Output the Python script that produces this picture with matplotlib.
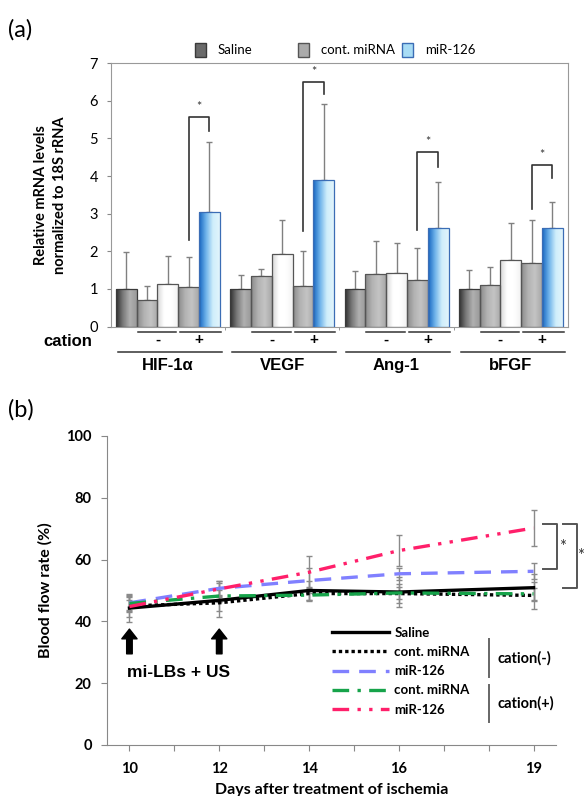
import numpy as np
import matplotlib
matplotlib.use("Agg")
import matplotlib.pyplot as plt
from matplotlib.colors import LinearSegmentedColormap
from matplotlib.patches import Rectangle

# ---------- panel (a) data ----------
genes = ["HIF-1\u03b1", "VEGF", "Ang-1", "bFGF"]
legend_a = ["Saline", "cont. miRNA", "miR-126"]
saline = [1.0, 1.0, 1.0, 1.0]
cont_neg = [0.71, 1.35, 1.40, 1.10]
mir_neg = [1.12, 1.93, 1.43, 1.78]
cont_pos = [1.04, 1.08, 1.23, 1.70]
mir_pos = [3.05, 3.89, 2.62, 2.62]
# top of error bars
saline_top = [1.98, 1.37, 1.47, 1.51]
cont_neg_top = [1.08, 1.53, 2.28, 1.59]
mir_neg_top = [1.88, 2.83, 2.21, 2.76]
cont_pos_top = [1.86, 2.02, 2.08, 2.83]
mir_pos_top = [4.92, 5.93, 3.83, 3.32]
# significance brackets: left start, top, right end, star height
brk_left = [2.30, 2.55, 2.57, 3.13]
brk_top = [5.58, 6.51, 4.63, 4.30]
brk_right = [5.20, 6.17, 4.25, 3.94]
star_y = [5.85, 6.78, 4.92, 4.56]

# ---------- panel (b) data ----------
days = [10, 12, 14, 16, 19]
bf_saline = [44.3, 46.8, 50.0, 49.5, 50.9]
bf_cont_neg = [45.0, 46.0, 49.0, 49.0, 48.4]
bf_mir_neg = [46.0, 50.7, 53.2, 55.4, 56.2]
bf_cont_pos = [45.8, 48.2, 48.5, 49.2, 48.9]
bf_mir_pos = [44.8, 50.5, 55.9, 62.9, 70.2]
err_saline = [4.6, 5.5, 3.0, 5.0, 4.3]
err_cont_neg = [2.0, 2.5, 2.0, 3.0, 4.5]
err_mir_neg = [2.5, 2.5, 4.0, 2.0, 2.6]
err_cont_pos = [2.0, 2.0, 2.0, 2.0, 2.0]
err_mir_pos = [3.5, 2.5, 5.1, 5.0, 5.7]
arrow_days = [10, 12]

plt.rcParams["font.family"] = ["Lato", "DejaVu Sans"]
fig = plt.figure(figsize=(5.84, 7.96), dpi=100)
af = ["Liberation Sans", "DejaVu Sans"]

# ================= panel (a) =================
ax = fig.add_axes([0.1896, 0.5898, 0.783, 0.3307])
w = 0.182
x = np.arange(len(genes))
series = [saline, cont_neg, mir_neg, cont_pos, mir_pos]
tops = [saline_top, cont_neg_top, mir_neg_top, cont_pos_top, mir_pos_top]
grads = [
    ["#303030", "#7a7a7a", "#b0b0b0", "#9a9a9a"],
    ["#8a8a8a", "#b2b2b2", "#c4c4c4", "#a8a8a8"],
    ["#d6d6d6", "#ffffff", "#ffffff", "#f2f2f2"],
    ["#8a8a8a", "#b2b2b2", "#c4c4c4", "#a8a8a8"],
    ["#1565c0", "#6fb3ea", "#cfeefb", "#e2f5fc"],
]
edges = ["#3a3a3a", "#555555", "#555555", "#555555", "#3b6db5"]
grad = np.linspace(0, 1, 64).reshape(1, -1)
for i, (vals, top) in enumerate(zip(series, tops)):
    xs = x + (i - 2) * w
    bars = ax.bar(xs, vals, w, facecolor="none", edgecolor=edges[i],
                  linewidth=0.9, zorder=3)
    cmap = LinearSegmentedColormap.from_list("g%d" % i, grads[i])
    for b in bars:
        x0, y0 = b.get_xy()
        im = ax.imshow(grad, cmap=cmap, aspect="auto", origin="lower",
                       extent=(x0, x0 + b.get_width(), y0, y0 + b.get_height()),
                       zorder=2)
        im.set_clip_path(b)
    up = np.array(top) - np.array(vals)
    ax.errorbar(xs, vals, yerr=[np.zeros(len(vals)), up], fmt="none",
                ecolor="#808080", elinewidth=1.0, capsize=2.2, capthick=1.0,
                zorder=1)

# brackets
for g in range(len(genes)):
    xl = g + 1 * w
    xr = g + 2 * w
    ax.plot([xl, xl, xr, xr], [brk_left[g], brk_top[g], brk_top[g], brk_right[g]],
            color="#333333", lw=1.2, zorder=4)
    ax.text((xl + xr) / 2, star_y[g], "*", ha="center", va="center",
            fontsize=9, color="#333333")

ax.set_xlim(-0.5, len(genes) - 0.5)
ax.set_ylim(0, 7)
ax.set_yticks(range(0, 8))
ax.tick_params(axis="y", labelsize=10.5, length=3, color="#888888", pad=6)
ax.set_xticks([])
ax.set_xticks(np.arange(0.5, len(genes) - 0.5), minor=True)
ax.tick_params(axis="x", which="minor", length=2, color="#888888")
for s in ax.spines.values():
    s.set_color("#999999")
ax.set_ylabel("Relative mRNA levels\nnormalized to 18S rRNA", fontsize=10.5,
              fontweight="bold", labelpad=16, linespacing=1.45)

# cation and group labels below
trans = ax.get_xaxis_transform()
for g, name in enumerate(genes):
    ax.plot([g - 1.45 * w, g + 0.4 * w], [-0.021, -0.021], transform=trans,
            color="#333333", lw=1.1, clip_on=False)
    ax.plot([g + 0.6 * w, g + 2.55 * w], [-0.021, -0.021], transform=trans,
            color="#333333", lw=1.1, clip_on=False)
    ax.text(g - 0.5 * w, -0.052, "-", transform=trans, ha="center", va="center",
            fontsize=11, fontweight="bold", family=af)
    ax.text(g + 1.5 * w, -0.052, "+", transform=trans, ha="center", va="center",
            fontsize=11, fontweight="bold", family=af)
    ax.plot([g - 0.44, g + 0.47], [-0.097, -0.097], transform=trans,
            color="#333333", lw=1.1, clip_on=False)
    ax.text(g, -0.148, name, transform=trans, ha="center", va="center",
            fontsize=12, fontweight="bold", family=af)
ax.text(-0.04, -0.058, "cation", transform=ax.transAxes, ha="right", va="center",
        fontsize=12, fontweight="bold", family=af)

# legend (a): boxes laid out like the original spreadsheet legend
leg_face = ["#6a6a6a", "#ababab", "#a8dcf5"]
leg_edge = ["#3a3a3a", "#555555", "#3b6db5"]
for k, (lab, bx0) in enumerate(zip(legend_a, [0.1845, 0.41, 0.6375])):
    ax.add_patch(Rectangle((bx0, 1.024), 0.024, 0.053, transform=ax.transAxes,
                           facecolor=leg_face[k], edgecolor=leg_edge[k], lw=1.0,
                           clip_on=False))
    ax.text(bx0 + 0.05, 1.051, lab, transform=ax.transAxes, fontsize=9.5,
            va="center", ha="left")

fig.text(0.014, 0.962, "(a)", fontsize=17, va="center")

# ================= panel (b) =================
bx = fig.add_axes([0.1832, 0.0641, 0.7688, 0.3882])
styles = [
    (bf_saline, err_saline, "black", "-", "Saline"),
    (bf_cont_neg, err_cont_neg, "black", (0, (1, 0.9)), "cont. miRNA"),
    (bf_mir_neg, err_mir_neg, "#8080ff", (0, (5, 3)), "miR-126"),
    (bf_cont_pos, err_cont_pos, "#16a34a", (0, (5, 2.5, 1, 2.5)), "cont. miRNA"),
    (bf_mir_pos, err_mir_pos, "#ff1f6a", (0, (5, 2.5, 1, 2.5, 1, 2.5)), "miR-126"),
]
lines = []
for vals, err, col, ls, lab in styles:
    bx.errorbar(days, vals, yerr=err, fmt="none", ecolor="#8a8a8a",
                elinewidth=1.0, capsize=2.5, capthick=1.0, zorder=1)
for vals, err, col, ls, lab in styles:
    ln, = bx.plot(days, vals, color=col, linestyle=ls, lw=2.4, label=lab, zorder=3)
    lines.append(ln)

bx.set_xlim(9.5, 19.5)
bx.set_ylim(0, 100)
bx.set_yticks(range(0, 101, 20))
bx.set_xticks(range(10, 20))
bx.set_xticklabels([str(d) if d in days else "" for d in range(10, 20)])
for lbl in bx.get_xticklabels() + bx.get_yticklabels():
    lbl.set_fontweight("bold")
bx.tick_params(axis="both", labelsize=10.5, length=4, color="#888888")
bx.tick_params(axis="x", pad=8)
bx.tick_params(axis="y", pad=7)
bx.spines["top"].set_visible(False)
bx.spines["right"].set_visible(False)
bx.spines["left"].set_color("#888888")
bx.spines["bottom"].set_color("#888888")
bx.set_xlabel("Days after treatment of ischemia", fontsize=11.5, fontweight="bold",
              labelpad=5)
bx.set_ylabel("Blood flow rate (%)", fontsize=11.5, fontweight="bold", labelpad=10)

# arrows
for d in arrow_days:
    bx.annotate("", xy=(d, 37.5), xytext=(d, 29.5),
                arrowprops=dict(facecolor="black", edgecolor="black", width=4,
                                headwidth=11, headlength=7, shrink=0))
bx.text(9.95, 23.3, "mi-LBs + US", fontsize=12.5, fontweight="bold", family=af,
        ha="left", va="center")

# significance brackets at day 19
top = bf_mir_pos[-1] + 1.3
for x0, x1, bottom, sx, sy in [(19.21, 19.52, bf_mir_neg[-1] + 0.6, 19.64, 64.1),
                               (19.66, 19.97, bf_saline[-1], 20.04, 61.2)]:
    bx.plot([x0, x1, x1, x0], [top, top, bottom, bottom], color="#555555",
            lw=1.4, clip_on=False)
    bx.text(sx, sy, "*", fontsize=12, ha="center", va="center", color="#333333",
            clip_on=False)

leg = bx.legend(lines, [s[4] for s in styles], loc="upper left",
                bbox_to_anchor=(0.49, 0.40), frameon=False, fontsize=9.5,
                handlelength=4.3, handletextpad=0.4, labelspacing=0.55,
                borderaxespad=0)
for t in leg.get_texts():
    t.set_fontweight("bold")
bx.plot([0.851, 0.851], [0.343, 0.220], transform=bx.transAxes, color="#666666",
        lw=1.4, clip_on=False)
bx.plot([0.851, 0.851], [0.194, 0.074], transform=bx.transAxes, color="#666666",
        lw=1.4, clip_on=False)
bx.text(0.87, 0.282, "cation(-)", transform=bx.transAxes, fontsize=10.5,
        fontweight="bold", va="center")
bx.text(0.87, 0.136, "cation(+)", transform=bx.transAxes, fontsize=10.5,
        fontweight="bold", va="center")

fig.text(0.014, 0.485, "(b)", fontsize=17, va="center")

fig.savefig("out.png", dpi=100)
